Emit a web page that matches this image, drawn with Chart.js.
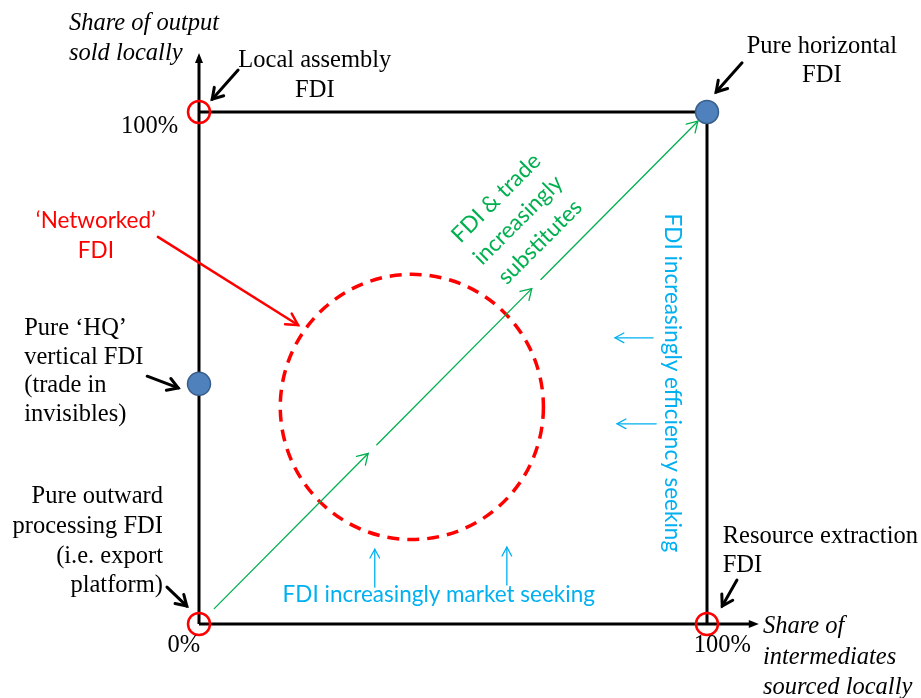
<!DOCTYPE html>
<html>
<head>
<meta charset="UTF-8">
<title>FDI typology</title>
<script src="https://cdn.jsdelivr.net/npm/chart.js@4.4.0/dist/chart.umd.min.js"></script>
<style>
    body { margin: 0; background: #fff; }
</style>
</head>
<body>
<canvas id="fdiCanvas" width="921" height="698"></canvas>
<script>
// both axes are shares in %, 0..100
var boxPoints = [{x: 0, y: 100}, {x: 100, y: 100}, {x: 100, y: 0}];
var xAxisEnd = 110.2;
var yAxisEnd = 111.5;

var openCorners = [{x: 0, y: 100}, {x: 0, y: 0}, {x: 100, y: 0}];
var pureTypes = [{x: 100, y: 100}, {x: 0, y: 46.9}];

// diagonal "substitutes" arrow, drawn in three pieces
var substituteSegments = [[3, 33.3], [35, 65.5], [67.3, 98.2]];

var networkedCentre = {x: 41.9, y: 42.4};
var networkedRadius = 25.9;

// [fromX, fromY, toX, toY]
var pointerArrows = [
    [7.7, 108.2, 2.6, 102.5],
    [106.9, 109.6, 101.8, 103.9],
    [-10.2, 48.4, -4.1, 46.1],
    [-6.3, 7.2, -2.4, 3.5],
    [105.9, 8.6, 103.0, 3.5]
];
var networkedArrow = [-8.1, 75.6, 19.5, 58.4];
var marketArrows = [[34.6, 7.2, 34.6, 14.6], [60.6, 7.6, 60.6, 15.0]];
var efficiencyArrows = [[89.4, 55.9, 81.9, 55.9], [90.0, 39.1, 82.3, 39.1]];

var serifLabels = [
    {lines: ['Share of output', 'sold locally'], x: -25.6, y: 116.0, align: 'left', italic: true, lh: 30},
    {lines: ['Local assembly', 'FDI'], x: 22.8, y: 108.8, align: 'center', lh: 30},
    {lines: ['100%'], x: -4.1, y: 95.9, align: 'right'},
    {lines: ['Pure horizontal', 'FDI'], x: 122.6, y: 111.5, align: 'center', lh: 29},
    {lines: ['Pure \u2018HQ\u2019', 'vertical FDI', '(trade in', 'invisibles)'], x: -34.4, y: 56.4, align: 'left', lh: 28.5},
    {lines: ['Pure outward', 'processing FDI', '(i.e. export', 'platform)'], x: -7.1, y: 23.6, align: 'right', lh: 29.7},
    {lines: ['0%'], x: -3.0, y: -5.5, align: 'center'},
    {lines: ['100%'], x: 103.0, y: -5.5, align: 'center'},
    {lines: ['Resource extraction', 'FDI'], x: 103.1, y: 15.8, align: 'left', lh: 29},
    {lines: ['Share of', 'intermediates', 'sourced locally'], x: 111.0, y: -1.8, align: 'left', italic: true, lh: 30.5}
];
var networkedLabel = {lines: ['\u2018Networked\u2019', 'FDI'], x: -20.3, y: 77.3};
var substitutesLabel = {lines: ['FDI & trade', 'increasingly', 'substitutes'], x: 62.8, y: 78.9};
var marketLabel = {lines: ['FDI increasingly market seeking'], x: 47.2, y: 4.3};
var efficiencyLabel = {lines: ['FDI increasingly efficiency seeking'], x: 93.1, y: 47.1};

var GREEN = '#00B050';
var CYAN = '#00B0F0';
var RED = '#FF0000';
var SANS = 'Lato, "Open Sans", sans-serif';
var SERIF = '"Liberation Serif", "DejaVu Serif", serif';

function vHead(ctx, x1, y1, x2, y2, len, spread) {
    var a = Math.atan2(y2 - y1, x2 - x1);
    ctx.beginPath();
    ctx.moveTo(x2 - len * Math.cos(a - spread), y2 - len * Math.sin(a - spread));
    ctx.lineTo(x2, y2);
    ctx.lineTo(x2 - len * Math.cos(a + spread), y2 - len * Math.sin(a + spread));
    ctx.stroke();
}

function drawArrow(chart, arr, color, width, len, spread) {
    var sx = chart.scales.x, sy = chart.scales.y, ctx = chart.ctx;
    var x1 = sx.getPixelForValue(arr[0]), y1 = sy.getPixelForValue(arr[1]);
    var x2 = sx.getPixelForValue(arr[2]), y2 = sy.getPixelForValue(arr[3]);
    ctx.save();
    ctx.strokeStyle = color;
    ctx.lineWidth = width;
    ctx.lineCap = 'round';
    ctx.lineJoin = 'miter';
    ctx.beginPath();
    ctx.moveTo(x1, y1);
    ctx.lineTo(x2, y2);
    ctx.stroke();
    vHead(ctx, x1, y1, x2, y2, len, spread);
    ctx.restore();
}

function solidHead(ctx, x, y, dir) {
    // dir: 'up' or 'right'
    ctx.beginPath();
    if (dir === 'up') {
        ctx.moveTo(x, y);
        ctx.lineTo(x - 4, y + 10);
        ctx.lineTo(x + 4, y + 10);
    } else {
        ctx.moveTo(x, y);
        ctx.lineTo(x - 10, y - 4);
        ctx.lineTo(x - 10, y + 4);
    }
    ctx.closePath();
    ctx.fill();
}

function drawLabel(chart, lab, font, color, align, lh, rot, baseline) {
    var ctx = chart.ctx;
    var x = chart.scales.x.getPixelForValue(lab.x);
    var y = chart.scales.y.getPixelForValue(lab.y);
    ctx.save();
    ctx.translate(x, y);
    if (rot) ctx.rotate(rot);
    ctx.font = font;
    ctx.fillStyle = color;
    ctx.textAlign = align;
    ctx.textBaseline = baseline || 'alphabetic';
    var n = lab.lines.length;
    lab.lines.forEach(function (t, i) {
        var off = baseline === 'middle' ? (i - (n - 1) / 2) * lh : i * lh;
        ctx.fillText(t, 0, off);
    });
    ctx.restore();
}

var diagramPlugin = {
    id: 'diagram',
    beforeDatasetsDraw: function (chart) {
        var sx = chart.scales.x, sy = chart.scales.y, ctx = chart.ctx;
        var cx = sx.getPixelForValue(networkedCentre.x);
        var cy = sy.getPixelForValue(networkedCentre.y);
        var rx = sx.getPixelForValue(networkedCentre.x + networkedRadius) - cx;
        var ry = cy - sy.getPixelForValue(networkedCentre.y + networkedRadius);
        ctx.save();
        ctx.strokeStyle = RED;
        ctx.lineWidth = 3.5;
        ctx.setLineDash([12, 8]);
        ctx.beginPath();
        ctx.ellipse(cx, cy, rx, ry, 0, 0, Math.PI * 2);
        ctx.stroke();
        ctx.restore();
    },
    afterDatasetsDraw: function (chart) {
        var sx = chart.scales.x, sy = chart.scales.y, ctx = chart.ctx;
        ctx.save();
        ctx.fillStyle = '#000';
        solidHead(ctx, sx.getPixelForValue(0), sy.getPixelForValue(yAxisEnd), 'up');
        solidHead(ctx, sx.getPixelForValue(xAxisEnd), sy.getPixelForValue(0), 'right');
        ctx.restore();

        substituteSegments.forEach(function (s) {
            drawArrow(chart, [s[0], s[0], s[1], s[1]], GREEN, 1.3, 12, 0.55);
        });
        pointerArrows.forEach(function (a) { drawArrow(chart, a, '#000', 3, 12, 0.55); });
        drawArrow(chart, networkedArrow, RED, 2.5, 13, 0.5);
        marketArrows.concat(efficiencyArrows).forEach(function (a) {
            drawArrow(chart, a, CYAN, 1.3, 10, 0.5);
        });
    },
    afterDraw: function (chart) {
        serifLabels.forEach(function (lab) {
            var font = (lab.italic ? 'italic ' : '') + '24.5px ' + SERIF;
            drawLabel(chart, lab, font, '#000', lab.align, lab.lh || 0);
        });
        drawLabel(chart, networkedLabel, '22.5px ' + SANS, RED, 'center', 30);
        drawLabel(chart, substitutesLabel, '22.5px ' + SANS, GREEN, 'center', 31, -Math.PI / 4, 'middle');
        drawLabel(chart, marketLabel, '22.5px ' + SANS, CYAN, 'center', 0);
        drawLabel(chart, efficiencyLabel, '22.5px ' + SANS, CYAN, 'center', 0, Math.PI / 2, 'middle');
    }
};

var ctx = document.getElementById('fdiCanvas').getContext('2d');
window.fdiChart = new Chart(ctx, {
    type: 'scatter',
    data: {
        datasets: [
            {
                data: openCorners,
                pointRadius: 11,
                pointBorderWidth: 2.5,
                pointBorderColor: RED,
                pointBackgroundColor: 'rgba(0,0,0,0)',
                clip: false,
                order: 0
            },
            {
                data: pureTypes,
                pointRadius: 11.5,
                pointBorderWidth: 1.5,
                pointBorderColor: '#385D8A',
                pointBackgroundColor: '#4F81BD',
                clip: false,
                order: 1
            },
            {
                data: boxPoints,
                showLine: true,
                pointRadius: 0,
                borderColor: '#000',
                borderWidth: 3,
                clip: false,
                order: 2
            },
            {
                data: [{x: 0, y: 0}, {x: xAxisEnd - 1.5, y: 0}],
                showLine: true,
                pointRadius: 0,
                borderColor: '#000',
                borderWidth: 3,
                clip: false,
                order: 3
            },
            {
                data: [{x: 0, y: 0}, {x: 0, y: yAxisEnd - 1.5}],
                showLine: true,
                pointRadius: 0,
                borderColor: '#000',
                borderWidth: 3,
                clip: false,
                order: 3
            }
        ]
    },
    options: {
        responsive: false,
        animation: false,
        events: [],
        layout: {padding: {left: 199, right: 214, top: 112, bottom: 74}},
        scales: {
            x: {type: 'linear', min: 0, max: 100, display: false},
            y: {type: 'linear', min: 0, max: 100, display: false}
        },
        plugins: {
            legend: {display: false},
            tooltip: {enabled: false}
        }
    },
    plugins: [diagramPlugin]
});
</script>
</body>
</html>
